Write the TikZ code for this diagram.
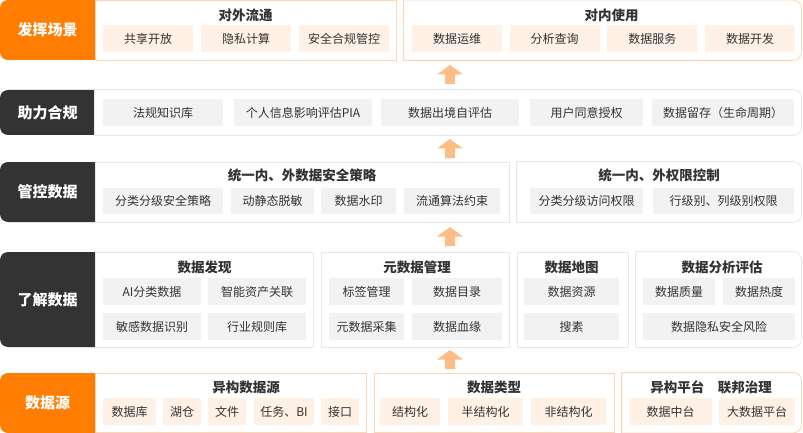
\documentclass[tikz,border=0pt]{standalone}
\usepackage{fontspec}
\setmainfont{Noto Sans CJK SC}

\definecolor{orgc}{HTML}{FF7D00}
\definecolor{darkc}{HTML}{333333}
\definecolor{orgfill}{HTML}{FFF1E6}
\definecolor{orgline}{HTML}{FFD6B3}
\definecolor{grayfill}{HTML}{F2F2F2}
\definecolor{grayline}{HTML}{E8E8E8}
\definecolor{arrc}{HTML}{FFBC85}
\definecolor{txtc}{HTML}{333333}

\tikzset{
  lbl/.style={rounded corners=8pt, minimum width=103pt, inner sep=0pt, text=white,
    font=\fontsize{15}{15}\selectfont\bfseries},
  lblorg/.style={lbl, fill=orgc},
  lbldark/.style={lbl, fill=darkc},
  grp/.style={fill=white, line width=0.8pt, inner sep=0pt},
  grporg/.style={grp, draw=orgline},
  grpgray/.style={grp, draw=grayline},
  ttl/.style={inner sep=0pt, text=txtc, font=\fontsize{13.5}{14}\selectfont\bfseries},
  item/.style={minimum height=27pt, inner sep=0pt, text=txtc, font=\fontsize{12}{12}\selectfont},
  itemorg/.style={item, fill=orgfill},
  itemgray/.style={item, fill=grayfill},
  uparr/.style={fill=arrc}
}

% border of a box with rounded right corners only
\newcommand\rightround[2]{%
  \draw[#2, line width=0.8pt] (#1.north west) -- ([xshift=-8pt]#1.north east)
    arc[start angle=90, end angle=0, radius=8pt] -- ([yshift=8pt]#1.south east)
    arc[start angle=0, end angle=-90, radius=8pt] -- (#1.south west) -- cycle;}

\begin{document}
\begin{tikzpicture}[x=1pt, y=-1pt]
  \useasboundingbox (0,0) rectangle (803,433);

  % row labels
  \node[lblorg, minimum height=60pt] (scene) at (51.5,30) {\hspace*{-8pt}发挥场景};
  \node[lbldark, minimum height=45pt] (comply) at (51.5,112.5) {\hspace*{-8pt}助力合规};
  \node[lbldark, minimum height=60pt] (control) at (51.5,192) {\hspace*{-8pt}管控数据};
  \node[lbldark, minimum height=95pt] (know) at (51.5,299.5) {\hspace*{-8pt}了解数据};
  \node[lblorg, minimum height=60pt] (source) at (51.5,403) {\hspace*{-8pt}数据源};

  % 发挥场景
  \node[grporg, minimum width=301pt, minimum height=59.5pt] (outer) at (245.5,30.25) {};
  \node[grp, minimum width=397pt, minimum height=59.5pt] (inner) at (602.5,30.25) {};
  \rightround{inner}{orgline}
  \node[ttl] (outerT) at (245.5,15.5) {对外流通};
  \node[ttl] (innerT) at (611.5,15.5) {对内使用};
  \node[itemorg, minimum width=90pt] (share) at (148,38.5) {共享开放};
  \node[itemorg, minimum width=90pt] (privc) at (246,38.5) {隐私计算};
  \node[itemorg, minimum width=90pt] (safe) at (344,38.5) {安全合规管控};
  \node[itemorg, minimum width=90pt] (ops) at (457,38.5) {数据运维};
  \node[itemorg, minimum width=90pt] (query) at (554.7,38.5) {分析查询};
  \node[itemorg, minimum width=90pt] (svc) at (652.3,38.5) {数据服务};
  \node[itemorg, minimum width=90pt] (dev) at (750,38.5) {数据开发};

  % 助力合规
  \node[grp, minimum width=706pt, minimum height=45pt] (law) at (448,112.5) {};
  \rightround{law}{grayline}
  \node[itemgray, minimum width=120pt] (lawbase) at (163,112.5) {法规知识库};
  \node[itemgray, minimum width=138pt] (pia) at (303,112.5) {个人信息影响评估PIA};
  \node[itemgray, minimum width=138pt] (exit) at (450,112.5) {数据出境自评估};
  \node[itemgray, minimum width=113pt] (consent) at (586.5,112.5) {用户同意授权};
  \node[itemgray, minimum width=142pt] (retain) at (723,112.5) {数据留存（生命周期）};

  % 管控数据
  \node[grpgray, minimum width=414pt, minimum height=60pt] (policy) at (302,192) {};
  \node[grp, minimum width=284pt, minimum height=60pt] (perm) at (659,192) {};
  \rightround{perm}{grayline}
  \node[ttl] (policyT) at (302,175.5) {统一内、外数据安全策略};
  \node[ttl] (permT) at (659,175.5) {统一内、外权限控制};
  \node[itemgray, minimum width=120pt, minimum height=26pt] (clspol) at (163,201) {分类分级安全策略};
  \node[itemgray, minimum width=83pt, minimum height=26pt] (mask) at (272.5,201) {动静态脱敏};
  \node[itemgray, minimum width=75pt, minimum height=26pt] (wmark) at (358.5,201) {数据水印};
  \node[itemgray, minimum width=96pt, minimum height=26pt] (algo) at (452,201) {流通算法约束};
  \node[itemgray, minimum width=113pt, minimum height=26pt] (access) at (586.5,201) {分类分级访问权限};
  \node[itemgray, minimum width=141pt, minimum height=26pt] (rowcol) at (723.5,201) {行级别、列级别权限};

  % 了解数据
  \node[grpgray, minimum width=218pt, minimum height=95pt] (disc) at (204,299.5) {};
  \node[grpgray, minimum width=188pt, minimum height=95pt] (meta) at (415,299.5) {};
  \node[grpgray, minimum width=111pt, minimum height=95pt] (map) at (572.5,299.5) {};
  \node[grp, minimum width=165pt, minimum height=95pt] (eval) at (718.5,299.5) {};
  \rightround{eval}{grayline}
  \node[ttl] (discT) at (204.5,267) {数据发现};
  \node[ttl] (metaT) at (417,267) {元数据管理};
  \node[ttl] (mapT) at (571.5,267) {数据地图};
  \node[ttl] (evalT) at (722,267) {数据分析评估};
  \node[itemgray, minimum width=98pt] (ai) at (152,291.5) {AI分类数据};
  \node[itemgray, minimum width=98pt] (asset) at (257,291.5) {智能资产关联};
  \node[itemgray, minimum width=98pt] (sens) at (152,326.5) {敏感数据识别};
  \node[itemgray, minimum width=98pt] (rule) at (257,326.5) {行业规则库};
  \node[itemgray, minimum width=75pt] (tag) at (366.5,291.5) {标签管理};
  \node[itemgray, minimum width=90pt] (catalog) at (457,291.5) {数据目录};
  \node[itemgray, minimum width=75pt] (collect) at (366.5,326.5) {元数据采集};
  \node[itemgray, minimum width=90pt] (lineage) at (457,326.5) {数据血缘};
  \node[itemgray, minimum width=95pt] (res) at (571.5,291.5) {数据资源};
  \node[itemgray, minimum width=95pt] (search) at (571.5,326.5) {搜素};
  \node[itemgray, minimum width=72pt] (quality) at (679,291.5) {数据质量};
  \node[itemgray, minimum width=72pt] (heat) at (759,291.5) {数据热度};
  \node[itemgray, minimum width=152pt] (risk) at (719,326.5) {数据隐私安全风险};

  % 数据源
  \node[grporg, minimum width=271pt, minimum height=59.5pt] (hetero) at (230.5,402.75) {};
  \node[grporg, minimum width=240pt, minimum height=59.5pt] (dtype) at (494,402.75) {};
  \node[grp, minimum width=179pt, minimum height=59.5pt] (plat) at (711.5,402.75) {};
  \rightround{plat}{orgline}
  \node[ttl] (heteroT) at (246,387.5) {异构数据源};
  \node[ttl] (dtypeT) at (494,387.5) {数据类型};
  \node[ttl] (platT) at (711,387.5) {异构平台\quad 联邦治理};
  \node[itemorg, minimum width=53pt] (db) at (129.5,411.5) {数据库};
  \node[itemorg, minimum width=38pt] (lake) at (182,411.5) {湖仓};
  \node[itemorg, minimum width=38pt] (file) at (227,411.5) {文件};
  \node[itemorg, minimum width=60pt] (task) at (284,411.5) {任务、BI};
  \node[itemorg, minimum width=38pt] (api) at (340,411.5) {接口};
  \node[itemorg, minimum width=60pt] (struct) at (410,411.5) {结构化};
  \node[itemorg, minimum width=75pt] (semi) at (485.5,411.5) {半结构化};
  \node[itemorg, minimum width=75pt] (unstruct) at (568.5,411.5) {非结构化};
  \node[itemorg, minimum width=83pt] (midp) at (670.5,411.5) {数据中台};
  \node[itemorg, minimum width=76pt] (bigp) at (757,411.5) {大数据平台};

  % arrows between rows
  \foreach \y in {65,139,227,350}
    \fill[uparr] (450,\y) -- ++(13,9.5) -- ++(-8,0) -- ++(0,9.5) -- ++(-10,0)
      -- ++(0,-9.5) -- ++(-8,0) -- cycle;
\end{tikzpicture}
\end{document}
